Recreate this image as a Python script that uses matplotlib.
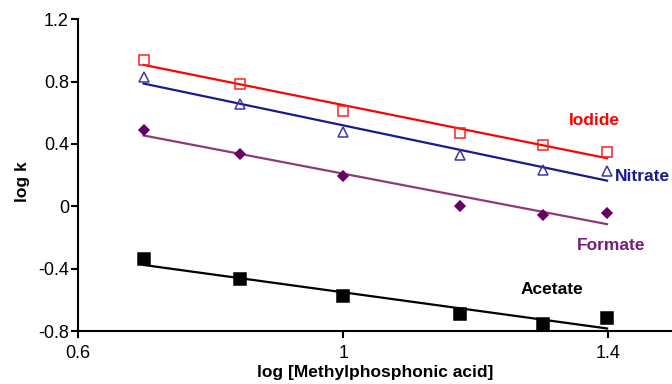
import numpy as np
import matplotlib
matplotlib.use("Agg")
import matplotlib.pyplot as plt

plt.rcParams['font.family'] = ['Liberation Sans', 'DejaVu Sans']

log_mpa = [0.699, 0.845, 1.0, 1.176, 1.301, 1.398]
iodide = [0.937, 0.783, 0.612, 0.468, 0.390, 0.346]
nitrate = [0.828, 0.655, 0.475, 0.327, 0.231, 0.225]
formate = [0.488, 0.334, 0.193, 0.003, -0.058, -0.045]
acetate = [-0.340, -0.468, -0.578, -0.693, -0.757, -0.719]

series = [
    ("Iodide", iodide, "#ff0000", "#ff2020", "s", "none", 7, (1.34, 0.55)),
    ("Nitrate", nitrate, "#1a1a8c", "#3a3aa0", "^", "none", 7, (1.41, 0.19)),
    ("Formate", formate, "#8e3a78", "#660066", "D", "#660066", 5, (1.352, -0.25)),
    ("Acetate", acetate, "#000000", "#000000", "s", "#000000", 9, (1.268, -0.535)),
]
label_colors = {"Iodide": "#ff0000", "Nitrate": "#1a1a8c", "Formate": "#7a1a7a", "Acetate": "#000000"}

fig = plt.figure(figsize=(6.72, 3.84), dpi=100)
ax = fig.add_axes([0.116, 0.138, 0.888, 0.812])

x = np.array(log_mpa)
for name, y, lc, mc, mk, mf, ms, pos in series:
    k, b = np.polyfit(x, np.array(y), 1)
    xf = np.array([x[0], x[-1]])
    ax.plot(xf, k * xf + b, color=lc, lw=1.6, zorder=2)
    ax.plot(x, y, linestyle="none", marker=mk, markersize=ms,
            markerfacecolor=mf, markeredgecolor=mc, markeredgewidth=1.1, zorder=3)
    ax.text(pos[0], pos[1], name, color=label_colors[name], fontsize=12.5,
            fontweight="bold", ha="left", va="center")

ax.set_xlim(0.6, 1.5)
ax.set_ylim(-0.8, 1.2)
ax.set_xticks([0.6, 1.0, 1.4])
ax.set_xticklabels(["0.6", "1", "1.4"])
ax.set_yticks([-0.8, -0.4, 0, 0.4, 0.8, 1.2])
ax.set_yticklabels(["-0.8", "-0.4", "0", "0.4", "0.8", "1.2"])
ax.tick_params(axis="both", labelsize=13, width=1.5, length=5, direction="out")
ax.tick_params(axis="x", pad=5)
ax.tick_params(axis="y", pad=1.5)
for s in ["top", "right"]:
    ax.spines[s].set_visible(False)
for s in ["left", "bottom"]:
    ax.spines[s].set_linewidth(1.5)

fig.text(0.033, 0.526, "log k", rotation=90, fontsize=12.5, fontweight="bold",
         ha="center", va="center")
fig.text(0.558, 0.029, "log [Methylphosphonic acid]", fontsize=12.5, fontweight="bold",
         ha="center", va="center")

fig.savefig("out.png", dpi=100)
